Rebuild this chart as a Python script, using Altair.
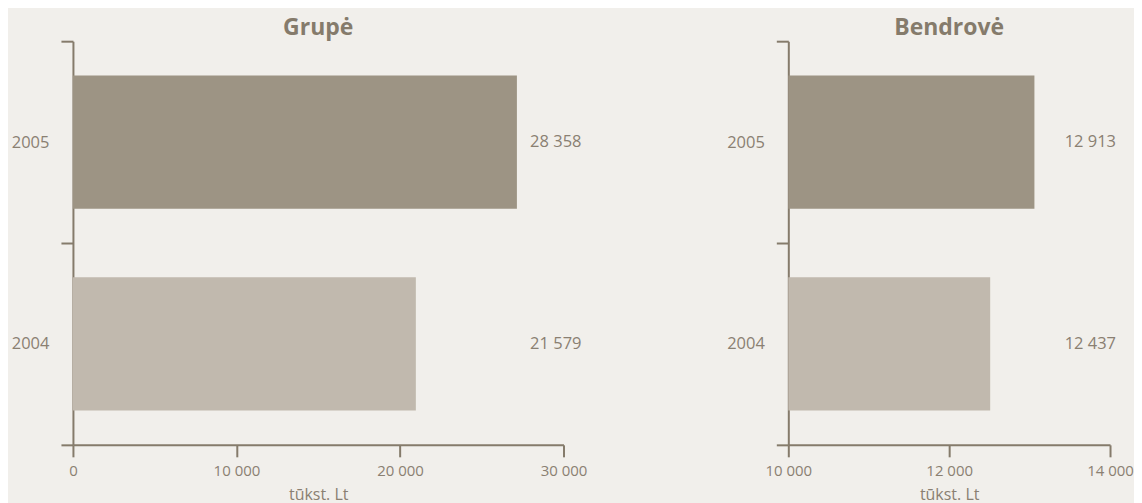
import altair as alt
import pandas as pd

years = ["2005", "2004"]
bar_colors = ["#9d9484", "#c1b9ae"]

# Grupė panel
group_bars = [27150, 20970]          # bar lengths as drawn
group_labels = [28358, 21579]        # printed values
group_base = 0
group_domain = [0, 30000]
group_ticks = [0, 10000, 20000, 30000]

# Bendrovė panel
company_bars = [13060, 12510]
company_labels = [12913, 12437]
company_base = 10000
company_domain = [10000, 14000]
company_ticks = [10000, 12000, 14000]

TEXT = "#8a8072"
AXIS = "#857b6b"
FONT = "Open Sans"


def fmt(v):
    return f"{v:,}".replace(",", " ")


def panel(title, bars, labels, base, domain, ticks, width, label_x):
    df = pd.DataFrame({
        "year": years,
        "value": bars,
        "base": [base] * len(years),
        "label": [fmt(v) for v in labels],
    })
    y = alt.Y(
        "year:N",
        sort=years,
        scale=alt.Scale(paddingInner=0, paddingOuter=0),
        axis=alt.Axis(
            title=None, tickBand="extent", tickSize=12, tickWidth=2,
            domainWidth=2, domainColor=AXIS, tickColor=AXIS,
            labelPadding=12, labelFontSize=16.5, labelColor=TEXT,
            labelFont=FONT, labelAngle=0,
        ),
    )
    b = alt.Chart(df).mark_bar(height=alt.RelativeBandSize(0.66)).encode(
        y=y,
        x=alt.X(
            "value:Q",
            scale=alt.Scale(domain=domain, zero=False, nice=False),
            axis=alt.Axis(
                values=ticks, grid=False, tickSize=12, tickWidth=2,
                domainWidth=2, domainColor=AXIS, tickColor=AXIS,
                labelPadding=7, labelFontSize=15, labelColor=TEXT,
                labelFont=FONT, labelFlush=False,
                labelExpr="replace(format(datum.value, ','), ',', ' ')",
                title="tūkst. Lt", titleFontSize=16, titleColor=TEXT,
                titleFont=FONT, titleFontWeight="normal", titlePadding=8,
            ),
        ),
        x2="base:Q",
        color=alt.Color("year:N", scale=alt.Scale(domain=years, range=bar_colors), legend=None),
    )
    t = alt.Chart(df).mark_text(
        align="right", baseline="middle", fontSize=16.5, color=TEXT, font=FONT
    ).encode(
        y=alt.Y("year:N", sort=years),
        x=alt.value(label_x),
        text="label:N",
    )
    return alt.layer(b, t).properties(
        width=width, height=404,
        title=alt.TitleParams(title, fontSize=23, fontWeight="bold", color=AXIS,
                              font=FONT, anchor="middle", offset=-7),
    )


left = panel("Grupė", group_bars, group_labels, group_base, group_domain,
             group_ticks, 491, 509)
right = panel("Bendrovė", company_bars, company_labels, company_base,
              company_domain, company_ticks, 322, 328)

chart = alt.hconcat(left, right, spacing=139).properties(
    background="#f1efeb",
    padding={"left": 3, "top": 9, "right": 0, "bottom": 0},
).configure_view(stroke=None)

chart.save("out.html", embed_options={"renderer": "svg", "actions": False})
